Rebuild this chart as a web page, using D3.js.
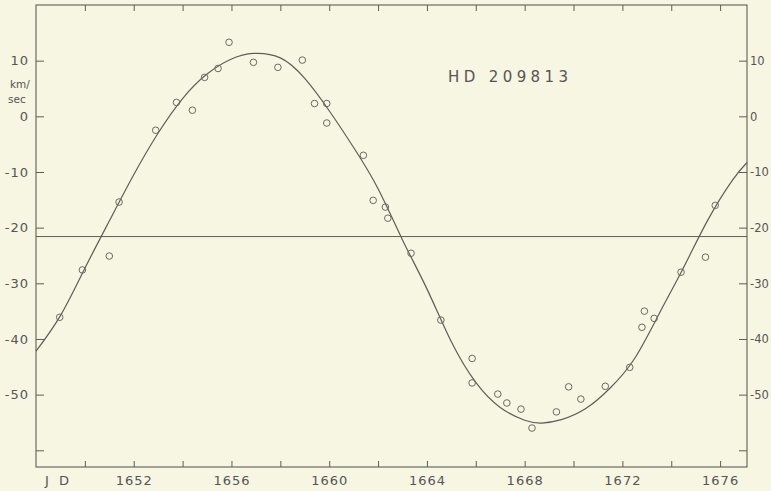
<!DOCTYPE html>
<html>
<head>
<meta charset="utf-8">
<script src="https://cdn.jsdelivr.net/npm/d3@7"></script>
<style>
  html, body { margin: 0; padding: 0; background: #f6f6e2; }
  svg { display: block; }
  text { font-family: "DejaVu Sans", sans-serif; fill: #555; }
</style>
</head>
<body>
<svg id="chart" width="771" height="491"></svg>
<script>
// Observations: Julian day and radial velocity (km/sec)
const obsDays = [1648.97, 1649.9, 1651.0, 1651.4, 1652.9, 1653.75, 1654.4, 1654.9, 1655.45, 1655.9,
  1656.9, 1657.9, 1658.9, 1659.4, 1659.9, 1659.9, 1661.4, 1661.8, 1662.3, 1662.4,
  1663.35, 1664.57, 1665.85, 1665.85, 1666.9, 1667.27, 1667.85, 1668.3, 1669.3, 1669.8,
  1670.3, 1671.3, 1672.3, 1672.8, 1672.9, 1673.3, 1674.4, 1675.4, 1675.8];
const obsVel = [-36.1, -27.6, -25.1, -15.4, -2.5, 2.5, 1.1, 7.0, 8.6, 13.3,
  9.7, 8.8, 10.1, 2.3, 2.3, -1.2, -7.0, -15.1, -16.3, -18.3,
  -24.6, -36.6, -43.5, -47.9, -49.9, -51.5, -52.6, -56.0, -53.1, -48.6,
  -50.8, -48.5, -45.1, -37.9, -35.0, -36.3, -28.0, -25.3, -16.0];

// Velocity curve
const curveDays = [1648.0, 1649.0, 1650.0, 1651.0, 1652.0, 1653.0, 1654.0, 1655.0, 1656.0, 1656.9,
  1658.0, 1659.0, 1660.0, 1661.0, 1662.0, 1663.0, 1664.0, 1665.0, 1666.0, 1667.0,
  1668.0, 1668.7, 1669.5, 1670.5, 1671.5, 1672.5, 1673.5, 1674.5, 1675.5, 1676.5, 1677.1];
const curveVel = [-42.2, -35.8, -27.3, -18.8, -10.5, -3.0, 3.2, 7.6, 10.3, 11.3,
  10.5, 6.8, 1.0, -5.6, -13.0, -22.2, -31.0, -40.5, -47.8, -52.3,
  -54.6, -55.1, -54.5, -52.5, -48.8, -43.5, -35.5, -27.2, -18.6, -11.5, -8.3];

const gammaVel = -21.6;
const xTicks = [1650, 1652, 1654, 1656, 1658, 1660, 1662, 1664, 1666, 1668, 1670, 1672, 1674, 1676];
const xLabels = [1652, 1656, 1660, 1664, 1668, 1672, 1676];
const yTicks = [10, 0, -10, -20, -30, -40, -50, -60];
const yLabels = [10, 0, -10, -20, -30, -40, -50];
const title = "HD 209813";

const svg = d3.select("#chart");
const L = 36, R = 747, T = 5, B = 467;
const x = d3.scaleLinear().domain([1648, 1677.1]).range([L, R]);
const y = d3.scaleLinear().domain([-63, 20]).range([B, T]);

svg.append("rect").attr("width", 771).attr("height", 491).attr("fill", "#f6f6e2");

const ink = "#5e5e58";
const fmtY = d => yLabels.includes(d) ? String(d) : "";
const fmtX = d => xLabels.includes(d) ? String(d) : "";

function styleAxis(g, size, spacing) {
  g.select(".domain").remove();
  g.selectAll(".tick line").attr("stroke", ink).attr("stroke-width", 1);
  g.selectAll(".tick text").attr("fill", "#5a5a55").attr("font-size", size)
    .attr("font-family", "DejaVu Sans, sans-serif").style("letter-spacing", spacing + "px");
}

svg.append("g").attr("transform", `translate(0,${B})`)
  .call(d3.axisBottom(x).tickValues(xTicks).tickSize(-6).tickPadding(9).tickFormat(fmtX))
  .call(styleAxis, 13, 1);
svg.append("g").attr("transform", `translate(0,${T})`)
  .call(d3.axisTop(x).tickValues(xTicks).tickSize(-6).tickFormat(""))
  .call(styleAxis, 13, 1);
svg.append("g").attr("transform", `translate(${L},0)`)
  .call(d3.axisLeft(y).tickValues(yTicks).tickSize(-8).tickPadding(7).tickFormat(fmtY))
  .call(styleAxis, 13, 1);
svg.append("g").attr("transform", `translate(${R},0)`)
  .call(d3.axisRight(y).tickValues(yTicks).tickSize(-8).tickPadding(3).tickFormat(fmtY))
  .call(styleAxis, 11.5, 0);

// frame
svg.append("rect").attr("x", L).attr("y", T).attr("width", R - L).attr("height", B - T)
  .attr("fill", "none").attr("stroke", ink).attr("stroke-width", 1.1);

// systemic velocity line
svg.append("line").attr("x1", L).attr("x2", R).attr("y1", y(gammaVel)).attr("y2", y(gammaVel))
  .attr("stroke", ink).attr("stroke-width", 1);

// curve
const pts = curveDays.map((d, i) => [d, curveVel[i]]);
svg.append("path").datum(pts)
  .attr("d", d3.line().x(d => x(d[0])).y(d => y(d[1])).curve(d3.curveNatural))
  .attr("fill", "none").attr("stroke", ink).attr("stroke-width", 1.2);

// observations
svg.append("g").selectAll("circle").data(obsDays.map((d, i) => [d, obsVel[i]]))
  .join("circle")
  .attr("cx", d => x(d[0])).attr("cy", d => y(d[1])).attr("r", 3.3)
  .attr("fill", "none").attr("stroke", "#6a6a62").attr("stroke-width", 1);

// texts
svg.append("text").attr("x", 448).attr("y", 82).attr("font-size", 15)
  .attr("textLength", 120).attr("lengthAdjust", "spacing").text(title);
svg.append("text").attr("x", 10).attr("y", 88).attr("font-size", 10.5).text("km/");
svg.append("text").attr("x", 8).attr("y", 103).attr("font-size", 10.5).text("sec");
svg.append("text").attr("x", 45).attr("y", 485).attr("font-size", 13)
  .style("letter-spacing", "3px").text("J D");
</script>
</body>
</html>
